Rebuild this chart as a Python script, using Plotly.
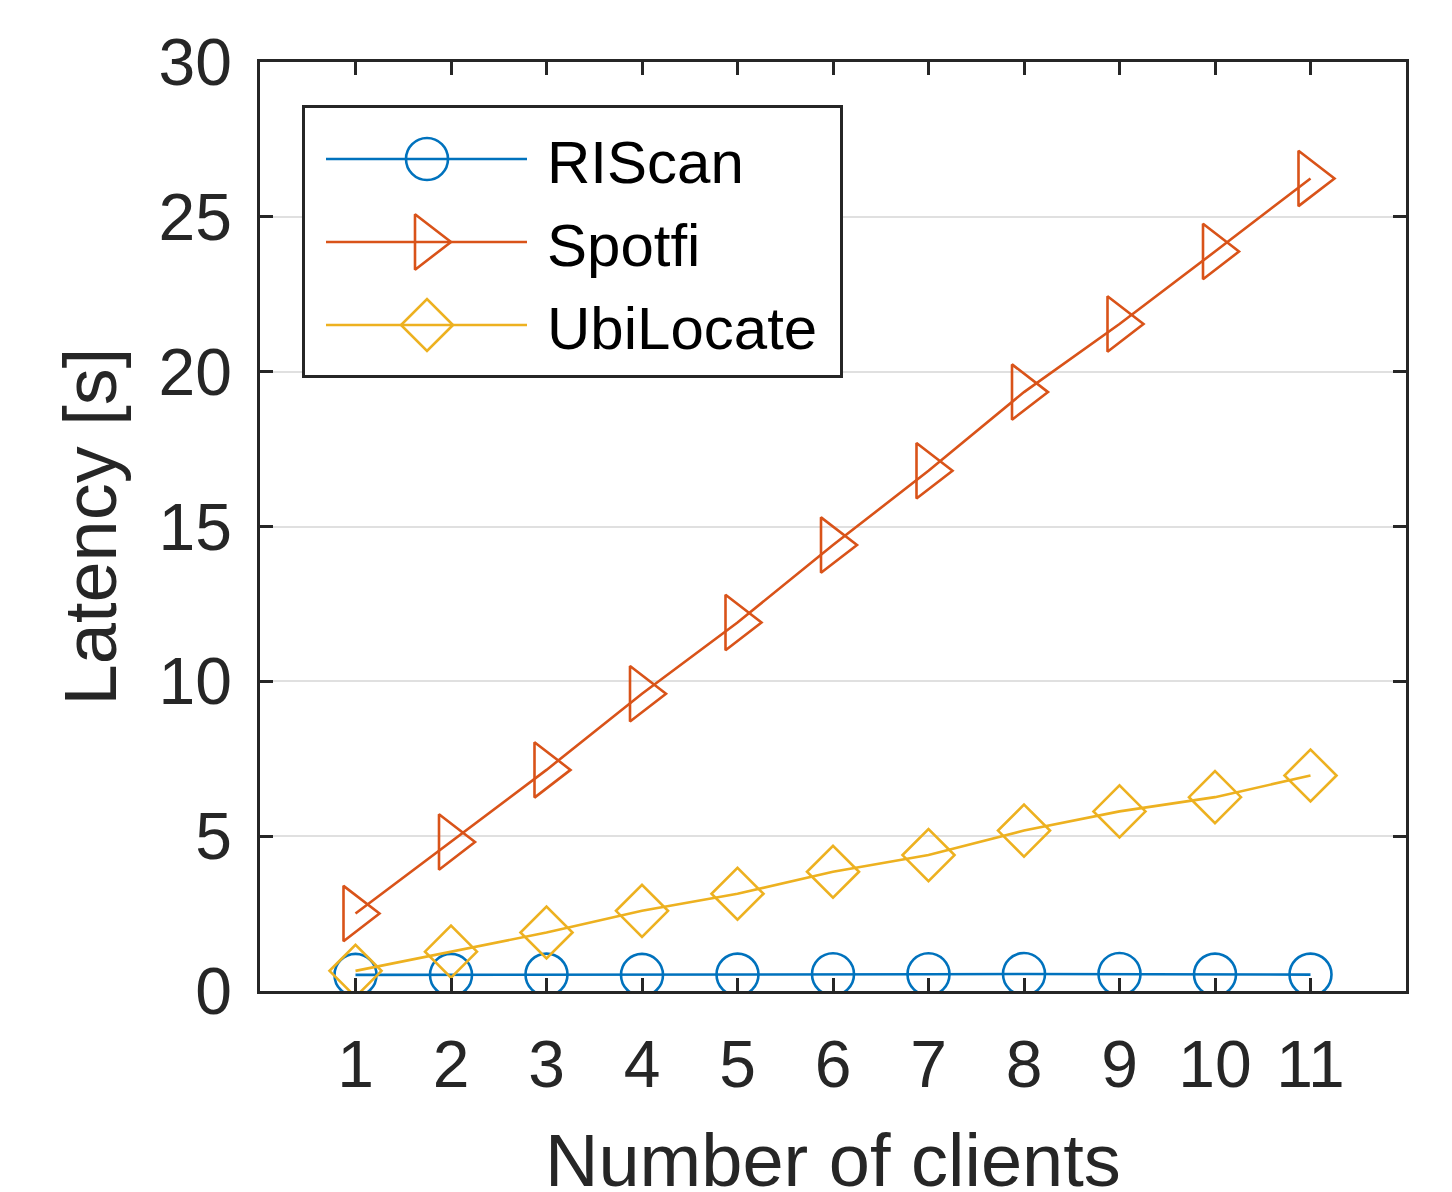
import plotly.graph_objects as go

# Number of clients on the x axis
clients = [1, 2, 3, 4, 5, 6, 7, 8, 9, 10, 11]

# Localization latency in seconds for each method
riscan = [0.52, 0.52, 0.53, 0.52, 0.53, 0.54, 0.54, 0.55, 0.55, 0.53, 0.53]
spotfi = [2.5, 4.81, 7.14, 9.6, 11.9, 14.4, 16.8, 19.34, 21.54, 23.88, 26.24]
ubilocate = [0.65, 1.27, 1.89, 2.59, 3.14, 3.85, 4.39, 5.18, 5.8, 6.26, 6.96]

method_names = ["RIScan", "Spotfi", "UbiLocate"]
y_ticks = [0, 5, 10, 15, 20, 25, 30]

AXIS = "#262626"
FONT = "Liberation Sans, Arial, Helvetica, sans-serif"
LW = 2.6

styles = [
    dict(color="#0072BD", symbol="circle-open", size=42),
    dict(color="#D95319", symbol="triangle-right-open", size=48),
    dict(color="#EDB120", symbol="diamond-open", size=40),
]

W, H = 1452, 1192
ML, MR, MT, MB = 260, 46, 62, 201
plot_w, plot_h = W - ML - MR, H - MT - MB

fig = go.Figure()
for name, vals, st in zip(method_names, [riscan, spotfi, ubilocate], styles):
    fig.add_trace(go.Scatter(
        x=clients, y=vals, name=name, mode="lines+markers", showlegend=False,
        line=dict(color=st["color"], width=LW),
        marker=dict(symbol=st["symbol"], size=st["size"], color=st["color"],
                    line=dict(color=st["color"], width=LW)),
    ))

# Legend box drawn as a small inset subplot with pixel-sized units
box_left, box_right, box_top, box_bottom = 305, 840, 108, 375
box_w, box_h = box_right - box_left, box_bottom - box_top
row_y = [51, 134, 217]
sample_x0, sample_x1, sample_mid, text_x = 21, 222, 122, 240

for name, st, ry in zip(method_names, styles, row_y):
    fig.add_trace(go.Scatter(
        x=[sample_x0, sample_x1], y=[ry, ry], mode="lines", showlegend=False,
        xaxis="x2", yaxis="y2", hoverinfo="skip",
        line=dict(color=st["color"], width=LW),
    ))
    fig.add_trace(go.Scatter(
        x=[sample_mid], y=[ry], mode="markers", showlegend=False,
        xaxis="x2", yaxis="y2", hoverinfo="skip",
        marker=dict(symbol=st["symbol"], size=st["size"], color=st["color"],
                    line=dict(color=st["color"], width=LW)),
    ))
    fig.add_annotation(
        x=text_x, y=ry + 3, xref="x2", yref="y2", text=name, showarrow=False,
        xanchor="left", yanchor="middle",
        font=dict(family=FONT, size=60, color="black"),
    )

# x-axis title placed close to the bottom edge
fig.add_annotation(
    x=0.5, y=-(1117 - (H - MB)) / plot_h, xref="paper", yref="paper",
    text="Number of clients", showarrow=False,
    xanchor="center", yanchor="top",
    font=dict(family=FONT, size=74, color=AXIS),
)

axis_common = dict(
    showline=True, linecolor=AXIS, linewidth=LW, mirror="ticks",
    ticks="inside", ticklen=13, tickwidth=LW, tickcolor=AXIS,
    tickfont=dict(family=FONT, size=66, color=AXIS),
    zeroline=False, automargin=False,
)

fig.update_layout(
    xaxis=dict(
        range=[0, 12], tickvals=clients, showgrid=False,
        ticklabelstandoff=14,
        **axis_common,
    ),
    yaxis=dict(
        range=[0, 30], tickvals=y_ticks, showgrid=True, gridcolor="#e0e0e0", gridwidth=2,
        ticklabelstandoff=12,
        title=dict(text="Latency [s]",
                   font=dict(family=FONT, size=74, color=AXIS), standoff=18),
        **axis_common,
    ),
    xaxis2=dict(
        domain=[(box_left - ML) / plot_w, (box_right - ML) / plot_w],
        range=[0, box_w], anchor="y2", showgrid=False, zeroline=False,
        showticklabels=False, ticks="", showline=True, mirror=True,
        linecolor=AXIS, linewidth=LW,
    ),
    yaxis2=dict(
        domain=[(H - MB - box_bottom) / plot_h, (H - MB - box_top) / plot_h],
        range=[box_h, 0], anchor="x2", showgrid=False, zeroline=False,
        showticklabels=False, ticks="", showline=True, mirror=True,
        linecolor=AXIS, linewidth=LW,
    ),
    width=W, height=H,
    margin=dict(l=ML, r=MR, t=MT, b=MB),
    paper_bgcolor="white", plot_bgcolor="white",
    font=dict(family=FONT, color=AXIS),
    showlegend=False,
)

fig.write_html("out.html")
